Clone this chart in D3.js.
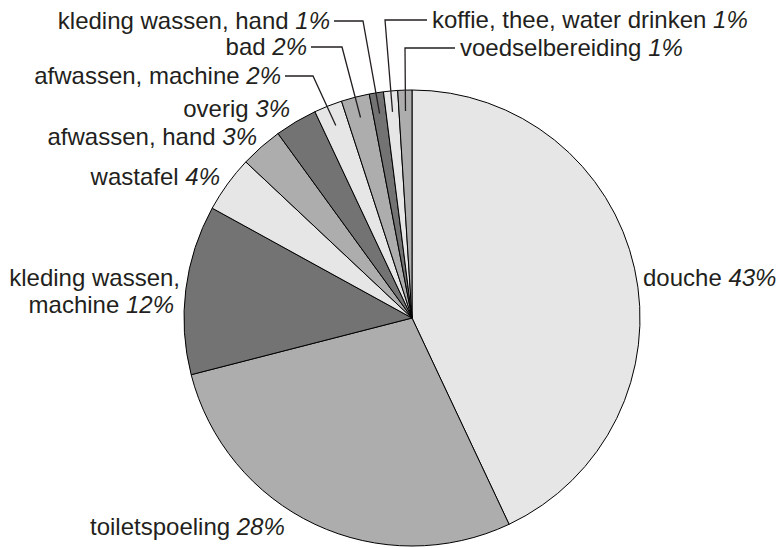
<!DOCTYPE html>
<html>
<head>
<meta charset="utf-8">
<script src="https://cdn.jsdelivr.net/npm/d3@7"></script>
<style>
  body { margin: 0; background: #fff; }
  text { font-family: "Liberation Sans", Arial, sans-serif; font-size: 24px; fill: #231f20; }
  .pct { font-style: italic; }
</style>
</head>
<body>
<script>
let width = 778,
    height = 548;

// Data
const categories = ['douche', 'toiletspoeling', 'kleding wassen, machine', 'wastafel',
    'afwassen, hand', 'overig', 'afwassen, machine', 'bad', 'kleding wassen, hand',
    'koffie, thee, water drinken', 'voedselbereiding'];
const values = [43, 28, 12, 4, 3, 3, 2, 2, 1, 1, 1];

// Grey fills repeat light / mid / dark
const color = d3.scaleOrdinal()
    .domain(d3.range(3))
    .range(['#e6e6e6', '#adadad', '#737373']);

// Label placement: lines of text, anchor, x per line, y (centre), optional leader elbow
const labelLayout = [
    { lines: ['douche'], anchor: 'start', x: [643], y: 278 },
    { lines: ['toiletspoeling'], anchor: 'start', x: [90], y: 527 },
    { lines: ['kleding wassen,', 'machine'], anchor: 'end', x: [180, 174], y: 278, dy: 27 },
    { lines: ['wastafel'], anchor: 'end', x: [220], y: 177 },
    { lines: ['afwassen, hand'], anchor: 'end', x: [257], y: 137 },
    { lines: ['overig'], anchor: 'end', x: [290], y: 109 },
    { lines: ['afwassen, machine'], anchor: 'end', x: [281], y: 76, lead: [285, 313] },
    { lines: ['bad'], anchor: 'end', x: [307], y: 47, lead: [311, 342] },
    { lines: ['kleding wassen, hand'], anchor: 'end', x: [330], y: 21, lead: [334, 363] },
    { lines: ['koffie, thee, water drinken'], anchor: 'start', x: [432], y: 20, lead: [427, 385] },
    { lines: ['voedselbereiding'], anchor: 'start', x: [460], y: 48, lead: [455, 405] }
];

const cx = 412, cy = 318, radius = 228;

const svg = d3.select("body").append("svg")
    .attr("width", width)
    .attr("height", height);

const pie = d3.pie()
    .sort(null)
    .value(d => d);

const arc = d3.arc()
    .innerRadius(0)
    .outerRadius(radius);

const leadArc = d3.arc()
    .innerRadius(207)
    .outerRadius(207);

const arcs = pie(values);

const g = svg.append("g")
    .attr("transform", `translate(${cx},${cy})`);

g.selectAll("path")
    .data(arcs)
    .enter().append("path")
    .attr("d", arc)
    .attr("fill", (d, i) => color(i % 3))
    .attr("stroke", "#000")
    .attr("stroke-width", 1)
    .attr("stroke-linejoin", "round");

// Leader lines
arcs.forEach(function (d, i) {
    const l = labelLayout[i];
    if (!l.lead) return;
    const c = leadArc.centroid(d);
    const pts = [[l.lead[0], l.y], [l.lead[1], l.y], [cx + c[0], cy + c[1]]];
    svg.append("path")
        .attr("d", d3.line()(pts))
        .attr("fill", "none")
        .attr("stroke", "#231f20")
        .attr("stroke-width", 1.3);
});

// Labels
labelLayout.forEach(function (l, i) {
    l.lines.forEach(function (line, j) {
        const last = j === l.lines.length - 1;
        const t = svg.append("text")
            .attr("text-anchor", l.anchor)
            .attr("x", l.x[j])
            .attr("y", l.y + j * (l.dy || 0))
            .attr("dy", "0.35em");
        t.append("tspan").text(last ? line + ' ' : line);
        if (last) {
            t.append("tspan")
                .attr("class", "pct")
                .text(values[i] + '%');
        }
    });
});
</script>
</body>
</html>
